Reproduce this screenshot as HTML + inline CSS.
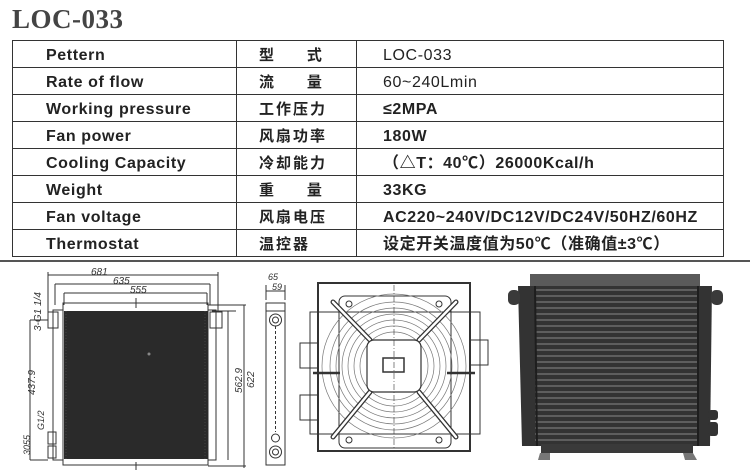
<!DOCTYPE html>
<html><head><meta charset="utf-8"><style>
body{margin:0;width:750px;height:471px;background:#fff;overflow:hidden;position:relative;font-family:"Liberation Sans","Noto Sans CJK SC",sans-serif;color:#222}
.t{position:absolute;left:12px;top:4px;font-family:"Liberation Serif",serif;font-weight:bold;font-size:27px;color:#444;letter-spacing:0.5px}
table{position:absolute;left:12px;top:40px;border-collapse:collapse;width:712px}
tr{height:27px}
td{border:1.5px solid #333;height:27px;padding:3px 0 0 0;box-sizing:border-box;font-weight:bold;font-size:16px;white-space:nowrap;letter-spacing:0.6px;line-height:20px}
td.a{width:224px;padding-left:33px}
td.b{width:120px;padding-left:22px;letter-spacing:2px;font-size:15px}
td.c{padding-left:26px}
</style></head><body>
<div class="t">LOC-033</div>
<table>
<tr><td class="a">Pettern</td><td class="b">型&nbsp;&nbsp;&nbsp;&nbsp;&nbsp;式</td><td class="c" style="font-weight:normal">LOC-033</td></tr>
<tr><td class="a">Rate of flow</td><td class="b">流&nbsp;&nbsp;&nbsp;&nbsp;&nbsp;量</td><td class="c" style="font-weight:normal">60~240Lmin</td></tr>
<tr><td class="a">Working pressure</td><td class="b">工作压力</td><td class="c">≤2MPA</td></tr>
<tr><td class="a">Fan power</td><td class="b">风扇功率</td><td class="c">180W</td></tr>
<tr><td class="a">Cooling Capacity</td><td class="b">冷却能力</td><td class="c">（△T：40℃）26000Kcal/h</td></tr>
<tr><td class="a">Weight</td><td class="b">重&nbsp;&nbsp;&nbsp;&nbsp;&nbsp;量</td><td class="c">33KG</td></tr>
<tr><td class="a">Fan voltage</td><td class="b">风扇电压</td><td class="c">AC220~240V/DC12V/DC24V/50HZ/60HZ</td></tr>
<tr><td class="a">Thermostat</td><td class="b">温控器</td><td class="c">设定开关温度值为50℃（准确值±3℃）</td></tr>
</table>
<svg width="750" height="471" style="position:absolute;left:0;top:0" font-family="Liberation Sans,sans-serif" font-style="italic">
<line x1="0" y1="261" x2="750" y2="261" stroke="#555" stroke-width="2"/>
<g stroke="#333" fill="none" stroke-width="1">
<line x1="48" y1="272" x2="48" y2="312"/><line x1="218" y1="272" x2="218" y2="312"/>
<line x1="48" y1="275" x2="218" y2="275"/>
<line x1="55" y1="284" x2="210" y2="284"/><line x1="55" y1="284" x2="55" y2="305"/><line x1="210" y1="284" x2="210" y2="305"/>
<line x1="64" y1="293" x2="207" y2="293"/><line x1="64" y1="293" x2="64" y2="305"/><line x1="207" y1="293" x2="207" y2="305"/>
<rect x="63" y="303" width="145" height="162"/>
<rect x="53" y="310" width="10" height="150"/><rect x="208" y="310" width="8" height="150"/>
<rect x="48" y="312" width="10" height="16"/><rect x="210" y="312" width="12" height="16"/>
<rect x="48" y="432" width="8" height="12"/><rect x="48" y="446" width="8" height="12"/>
<line x1="30" y1="320" x2="48" y2="320"/><line x1="30" y1="320" x2="30" y2="460"/><line x1="30" y1="460" x2="48" y2="460"/>
<line x1="212" y1="311" x2="236" y2="311"/><line x1="228" y1="311" x2="228" y2="460"/>
<line x1="208" y1="305" x2="246" y2="305"/><line x1="244" y1="305" x2="244" y2="468"/><line x1="208" y1="466" x2="246" y2="466"/>
<line x1="136" y1="298" x2="136" y2="308"/><line x1="136" y1="462" x2="136" y2="470"/>
</g>
<rect x="64" y="311" width="144" height="148" fill="#2a2a2a"/>
<g stroke="#555" stroke-width="0.6" stroke-dasharray="1 2">
<line x1="66" y1="311" x2="66" y2="459"/><line x1="205" y1="311" x2="205" y2="459"/>
</g>
<circle cx="149" cy="354" r="1.5" fill="#888"/>
<g fill="#333" font-size="10">
<text x="91" y="275">681</text><text x="113" y="284">635</text><text x="130" y="293">555</text>
<text transform="translate(41,331) rotate(-90)">3-G1 1/4</text>
<text transform="translate(35,395) rotate(-90)">437.9</text>
<text transform="translate(242,393) rotate(-90)">562.9</text>
<text transform="translate(254,388) rotate(-90)">622</text>
<text transform="translate(44,430) rotate(-90)" font-size="9">G1/2</text>
<text transform="translate(30,455) rotate(-90)" font-size="9">3055</text>
<text x="268" y="280" font-size="9">65</text><text x="272" y="290" font-size="9">59</text>
</g>
<g stroke="#333" fill="none">
<line x1="266" y1="285" x2="266" y2="300"/><line x1="285" y1="285" x2="285" y2="300"/><line x1="266" y1="291" x2="285" y2="291"/>
<rect x="266" y="303" width="19" height="162"/>
<line x1="266" y1="311" x2="285" y2="311"/>
<circle cx="275.5" cy="320" r="6"/><circle cx="275.5" cy="320" r="3"/>
<circle cx="275.5" cy="438" r="4"/><circle cx="275.5" cy="452" r="6"/><circle cx="275.5" cy="452" r="3"/>
<line x1="275.5" y1="326" x2="275.5" y2="432" stroke-dasharray="3 2"/>
</g>
<g stroke="#333" fill="none">
<rect x="318" y="283" width="152" height="168" stroke-width="2"/>
<rect x="339" y="296" width="112" height="152" rx="6"/>
<rect x="310" y="312" width="170" height="122"/>
<rect x="300" y="343" width="18" height="25"/><rect x="300" y="395" width="18" height="25"/><rect x="470" y="340" width="18" height="25"/>
<g stroke="#777" stroke-width="0.7">
<circle cx="394" cy="366" r="72"/><circle cx="394" cy="366" r="64"/><circle cx="394" cy="366" r="58"/><circle cx="394" cy="366" r="52"/><circle cx="394" cy="366" r="46"/><circle cx="394" cy="366" r="40"/><circle cx="394" cy="366" r="34"/>
</g>
<g stroke="#333" stroke-width="5" stroke-linecap="round"><line x1="333" y1="302" x2="370" y2="340"/><line x1="456" y1="302" x2="419" y2="340"/><line x1="333" y1="437" x2="370" y2="392"/><line x1="456" y1="437" x2="419" y2="392"/></g>
<g stroke="#fff" stroke-width="2.5" stroke-linecap="round"><line x1="333" y1="302" x2="370" y2="340"/><line x1="456" y1="302" x2="419" y2="340"/><line x1="333" y1="437" x2="370" y2="392"/><line x1="456" y1="437" x2="419" y2="392"/></g>
<rect x="367" y="340" width="54" height="52" rx="7" fill="#fff" stroke-width="1.2"/>
<rect x="383" y="358" width="21" height="14" stroke-width="1.5"/>
<line x1="394" y1="285" x2="394" y2="452" stroke-dasharray="6 2 1 2" stroke-width="0.6"/>
<line x1="313" y1="373" x2="340" y2="373" stroke-width="2.5"/><line x1="447" y1="373" x2="475" y2="373" stroke-width="2.5"/>
<circle cx="349" cy="304" r="3"/><circle cx="439" cy="304" r="3"/><circle cx="349" cy="440" r="3"/><circle cx="439" cy="440" r="3"/>
</g>
<rect x="530" y="274" width="170" height="12" fill="#5a5a5a"/>
<polygon points="518,286 712,286 710,446 522,446" fill="#333"/>
<rect x="508" y="290" width="12" height="15" rx="5" fill="#3a3a3a"/>
<rect x="711" y="290" width="12" height="15" rx="5" fill="#3a3a3a"/>
<rect x="708" y="410" width="10" height="10" rx="3" fill="#333"/><rect x="708" y="422" width="10" height="14" rx="3" fill="#333"/>
<g stroke="#777" stroke-width="1.2">
<line x1="535" y1="290" x2="698" y2="290"/><line x1="535" y1="296" x2="698" y2="296"/><line x1="535" y1="302" x2="698" y2="302"/><line x1="535" y1="308" x2="698" y2="308"/><line x1="535" y1="314" x2="698" y2="314"/><line x1="535" y1="320" x2="698" y2="320"/><line x1="535" y1="326" x2="698" y2="326"/><line x1="535" y1="332" x2="698" y2="332"/><line x1="535" y1="338" x2="698" y2="338"/><line x1="535" y1="344" x2="698" y2="344"/><line x1="535" y1="350" x2="698" y2="350"/><line x1="535" y1="356" x2="698" y2="356"/><line x1="535" y1="362" x2="698" y2="362"/><line x1="535" y1="368" x2="698" y2="368"/><line x1="535" y1="374" x2="698" y2="374"/><line x1="535" y1="380" x2="698" y2="380"/><line x1="535" y1="386" x2="698" y2="386"/><line x1="535" y1="392" x2="698" y2="392"/><line x1="535" y1="398" x2="698" y2="398"/><line x1="535" y1="404" x2="698" y2="404"/><line x1="535" y1="410" x2="698" y2="410"/><line x1="535" y1="416" x2="698" y2="416"/><line x1="535" y1="422" x2="698" y2="422"/><line x1="535" y1="428" x2="698" y2="428"/><line x1="535" y1="434" x2="698" y2="434"/><line x1="535" y1="440" x2="698" y2="440"/>
</g>
<line x1="535" y1="286" x2="537" y2="446" stroke="#1e1e1e" stroke-width="2"/><line x1="698" y1="286" x2="698" y2="446" stroke="#1e1e1e" stroke-width="2"/>
<rect x="541" y="444" width="152" height="9" fill="#3a3a3a"/>
<polygon points="540,453 550,453 550,460 538,460" fill="#777"/><polygon points="683,453 693,453 697,460 685,460" fill="#777"/>
</svg>
</body></html>
